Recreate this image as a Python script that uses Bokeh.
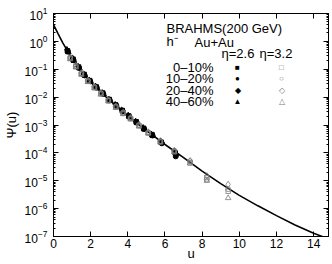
from bokeh.plotting import figure
from bokeh.models import Range1d, LinearAxis, LogAxis, Label, FixedTicker, CustomJSTickFormatter
from bokeh.embed import file_html
from bokeh.resources import INLINE

# ---- data ----
curve_u = [0, 0.25, 0.5, 1, 1.5, 2, 2.5, 3, 3.5, 4, 5, 6, 7, 8, 9, 10, 11, 12, 13, 14, 14.6]
curve_psi = [3.98, 1.86, 0.89, 0.24, 0.083, 0.0347, 0.0162, 7.9e-3, 4.0e-3, 2.1e-3, 6.3e-4,
             2.0e-4, 6.8e-5, 2.2e-5, 7.9e-6, 3.0e-6, 1.26e-6, 5.6e-7, 2.6e-7, 1.3e-7, 9.3e-8]

# eta = 2.6 (filled)
u26_0_10 = [0.75, 1.05, 1.35, 1.65, 1.95, 2.3, 2.65, 3.0, 3.35, 3.7, 4.05, 4.45, 4.85, 5.3, 5.8, 6.55]
p26_0_10 = [0.46, 0.23, 0.12, 0.065, 0.039, 0.023, 0.014, 0.0082, 0.0052, 0.0033, 0.0021, 0.0013, 7.6e-4, 4.5e-4, 2.4e-4, 1.0e-4]
u26_10_20 = [0.78, 1.08, 1.38, 1.68, 1.98, 2.33, 2.68, 3.03, 3.38, 3.73, 4.08, 4.48, 4.88, 5.33, 5.83, 6.58]
p26_10_20 = [0.43, 0.21, 0.112, 0.060, 0.037, 0.022, 0.013, 0.0077, 0.0049, 0.0031, 0.0020, 0.00122, 7.2e-4, 4.2e-4, 2.2e-4, 7.5e-5]
u26_20_40 = [0.72, 1.02, 1.32, 1.62, 1.92, 2.27, 2.62, 2.97, 3.32, 3.67, 4.02, 4.42, 4.82, 5.27, 5.77, 6.52]
p26_20_40 = [0.50, 0.25, 0.125, 0.067, 0.040, 0.024, 0.0142, 0.0084, 0.0053, 0.0034, 0.0022, 0.00134, 7.9e-4, 4.6e-4, 2.6e-4, 1.1e-4]
u26_40_60 = [0.80, 1.10, 1.40, 1.70, 2.00, 2.35, 2.70, 3.05, 3.40, 3.75, 4.10, 4.50, 4.90, 5.35, 5.85, 6.60]
p26_40_60 = [0.41, 0.20, 0.108, 0.059, 0.036, 0.021, 0.0128, 0.0076, 0.0048, 0.0030, 0.0019, 0.00118, 6.9e-4, 4.1e-4, 2.3e-4, 9.0e-5]

# eta = 3.2 (open)
u32 = [0.9, 1.2, 1.5, 1.85, 2.2, 2.55, 2.95, 3.35, 3.75, 4.15, 4.6, 5.1, 5.75, 6.5, 7.35, 8.25, 9.4]
p32_0_10 = [0.25, 0.125, 0.068, 3.7e-2, 2.2e-2, 1.3e-2, 7.4e-3, 4.4e-3, 2.6e-3, 1.7e-3, 9.5e-4, 5.2e-4, 2.5e-4, 1.1e-4, 4.4e-5, 1.3e-5, 4.2e-6]
p32_10_20 = [0.26, 0.13, 0.071, 3.9e-2, 2.3e-2, 1.4e-2, 7.8e-3, 4.6e-3, 2.8e-3, 1.74e-3, 1.0e-3, 5.4e-4, 2.6e-4, 1.2e-4, 5.0e-5, 1.1e-5, 5.0e-6]
p32_20_40 = [0.27, 0.135, 0.074, 4.0e-2, 2.4e-2, 1.45e-2, 7.9e-3, 4.7e-3, 2.8e-3, 1.8e-3, 1.0e-3, 5.6e-4, 2.7e-4, 1.2e-4, 5.2e-5, 1.5e-5, 7.4e-6]
p32_40_60 = [0.23, 0.118, 0.064, 3.5e-2, 2.1e-2, 1.26e-2, 7.1e-3, 4.2e-3, 2.5e-3, 1.6e-3, 8.9e-4, 5.0e-4, 2.4e-4, 1.07e-4, 4.2e-5, 1.0e-5, 2.4e-6]

x_ticks = [0, 2, 4, 6, 8, 10, 12, 14]
y_ticks = [1e-7, 1e-6, 1e-5, 1e-4, 1e-3, 1e-2, 1e-1, 1e0, 1e1]
y_minor = [m * t for t in y_ticks[:-1] for m in (2, 3, 4, 5, 6, 7, 8, 9)]

x_title = "u"
y_title = "\u03A8(u)"
centralities = ["0\u201310%", "10\u201320%", "20\u201340%", "40\u201360%"]
filled_sym = ["\u25A0", "\u25CF", "\u25C6", "\u25B2"]
open_sym = ["\u25A1", "\u25CB", "\u25C7", "\u25B3"]

FONT = "Liberation Sans"
GRAY = "#7a7a7a"

p = figure(width=332, height=264, output_backend="svg", toolbar_location=None,
           y_axis_type="log", x_range=Range1d(0, 14.8), y_range=Range1d(1e-7, 1e1),
           min_border_left=48, min_border_right=4, min_border_top=13, min_border_bottom=28)
p.xgrid.visible = False
p.ygrid.visible = False
p.outline_line_color = "black"
p.outline_line_width = 1
p.background_fill_color = "white"
p.border_fill_color = "white"

p.line(curve_u, curve_psi, line_color="black", line_width=1.6)

msz = 5
p.scatter(u26_0_10, p26_0_10, marker="square", size=msz - 0.5, color="black")
p.scatter(u26_10_20, p26_10_20, marker="circle", size=msz, color="black")
p.scatter(u26_20_40, p26_20_40, marker="diamond", size=msz + 1.5, color="black")
p.scatter(u26_40_60, p26_40_60, marker="triangle", size=msz + 0.5, color="black")

for marker, vals, sz in [("square", p32_0_10, msz - 0.5), ("circle", p32_10_20, msz),
                         ("diamond", p32_20_40, msz + 1.5), ("triangle", p32_40_60, msz + 0.5)]:
    p.scatter(u32, vals, marker=marker, size=sz, fill_color=None, line_color=GRAY, line_width=0.8)

# axes
xa = p.xaxis[0]
xa.ticker = FixedTicker(ticks=x_ticks)
ya = p.yaxis[0]
ya.ticker = FixedTicker(ticks=y_ticks, minor_ticks=y_minor)

blank = CustomJSTickFormatter(code="return ''")
top = LinearAxis(ticker=FixedTicker(ticks=x_ticks), formatter=blank)
right = LogAxis(ticker=FixedTicker(ticks=y_ticks, minor_ticks=y_minor), formatter=blank)
p.add_layout(top, "above")
p.add_layout(right, "right")

for ax in (xa, ya, top, right):
    ax.major_tick_in = 5
    ax.major_tick_out = 0
    ax.minor_tick_in = 2
    ax.minor_tick_out = 0
    ax.axis_line_color = "black"
    ax.major_tick_line_color = "black"
    ax.minor_tick_line_color = "black"
    ax.major_label_text_font = FONT
    ax.major_label_text_font_size = "12px"
    ax.major_label_text_color = "black"

for ax in (top, right):
    ax.major_label_text_font_size = "1px"
    ax.major_label_standoff = 0

xa.major_label_standoff = 2
ya.major_label_standoff = 6

xa.axis_label = x_title
ya.axis_label = y_title
for ax in (xa, ya):
    ax.axis_label_text_font = FONT
    ax.axis_label_text_font_size = "13px"
    ax.axis_label_text_font_style = "normal"
    ax.axis_label_text_color = "black"
xa.axis_label_standoff = -5
ya.axis_label_standoff = 3

# legend block
def lab(x, y, t, align="left", size="13px", color="black"):
    p.add_layout(Label(x=x, y=y, x_units="screen", y_units="screen", text=t,
                       text_font=FONT, text_font_size=size, text_align=align,
                       text_baseline="middle", text_color=color))

lab(113, 208, "BRAHMS(200 GeV)")
lab(113, 195, "h\u207B")
lab(141, 194, "Au+Au")
lab(168, 183, "\u03B7=2.6")
lab(206, 183, "\u03B7=3.2")
rows_y = [169.5, 158, 146.5, 135]
for ry, c, fs, os_ in zip(rows_y, centralities, filled_sym, open_sym):
    lab(160, ry, c, align="right")
    lab(184, ry, fs, align="center", size="8px")
    lab(228, ry, os_, align="center", size="8px", color=GRAY)

open("out.html", "w").write(file_html(p, INLINE))
